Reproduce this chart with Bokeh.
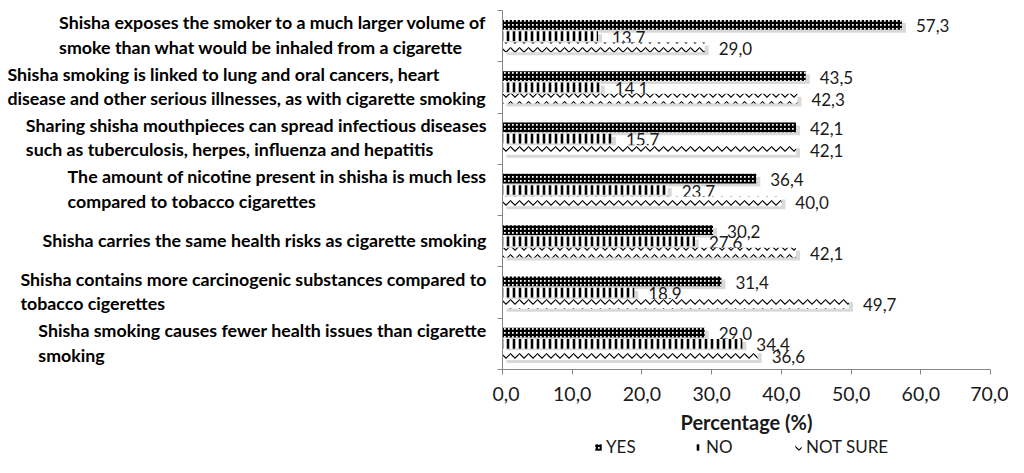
from bokeh.plotting import figure
from bokeh.models import ColumnDataSource, FixedTicker, Range1d, Legend, LegendItem
from bokeh.layouts import row, column
from bokeh.embed import file_html
from bokeh.resources import INLINE
from bokeh.core.properties import value

statements = [
    "Shisha exposes the smoker to a much larger volume of\nsmoke than what would be inhaled from a cigarette",
    "Shisha smoking is linked to lung and oral cancers, heart\ndisease and other serious illnesses, as with cigarette smoking",
    "Sharing shisha mouthpieces can spread infectious diseases\nsuch as tuberculosis, herpes, influenza and hepatitis",
    "The amount of nicotine present in shisha is much less\ncompared to tobacco cigarettes",
    "Shisha carries the same health risks as cigarette smoking",
    "Shisha contains more carcinogenic substances compared to\ntobacco cigerettes",
    "Shisha smoking causes fewer health issues than cigarette\nsmoking",
]
yes = [57.3, 43.5, 42.1, 36.4, 30.2, 31.4, 29.0]
no = [13.7, 14.1, 15.7, 23.7, 27.6, 18.9, 34.4]
not_sure = [29.0, 42.3, 42.1, 40.0, 42.1, 49.7, 36.6]
series_names = ["YES", "NO", "NOT SURE"]
x_ticks = [0, 10, 20, 30, 40, 50, 60, 70]
x_title = "Percentage (%)"

n = len(statements)
centers = [n - i - 0.5 for i in range(n)]
fmt = lambda v: f"{v:.1f}".replace(".", ",")

FONT = "Lato"
H = 436
TOP = 10
BOTTOM = 66
LEFT_W = 492
MAIN_W = 516
LEG_H = 21

yr = Range1d(0, n)

# ---- left label panel ----
lp = figure(width=LEFT_W, height=H, x_range=Range1d(0, LEFT_W), y_range=yr,
            output_backend="svg", toolbar_location=None,
            x_axis_type=None, y_axis_type=None,
            min_border_left=0, min_border_right=0,
            min_border_top=TOP, min_border_bottom=BOTTOM)
lp.outline_line_color = None
lp.grid.visible = False
lsrc = ColumnDataSource(dict(x=[LEFT_W - 6] * n, y=[c + 0.03 for c in centers], t=statements))
lp.text(x="x", y="y", text="t", source=lsrc, anchor="center_right", text_align="left",
        text_baseline="middle", text_font=value(FONT), text_font_style="bold",
        text_font_size="17.8px", text_color="#000000", text_line_height=1.12)

# ---- main chart ----
p = figure(width=MAIN_W, height=H, x_range=Range1d(0, 70), y_range=yr,
           output_backend="svg", toolbar_location=None,
           min_border_left=10, min_border_right=18,
           min_border_top=TOP, min_border_bottom=BOTTOM)
p.outline_line_color = None
p.grid.visible = False

off = 0.22
bh = 0.19
sx = 4 / 6.97   # shadow offset in data units (px / px-per-unit)
sy = 3 / 51.4

hatches = [
    dict(hatch_pattern="+", hatch_scale=4, hatch_weight=2.6),
    dict(hatch_pattern="|", hatch_scale=6, hatch_weight=2.6),
    dict(hatch_pattern="v", hatch_scale=9, hatch_weight=1.1),
]
series = [(yes, off), (no, 0.0), (not_sure, -off)]
for (vals, o), hatch in zip(series, hatches):
    ys = [c + o for c in centers]
    src = ColumnDataSource(dict(y=ys, v=vals, lab=[fmt(v) for v in vals]))
    shadow = ColumnDataSource(dict(y=[y - sy for y in ys], r=[v + sx for v in vals]))
    p.hbar(y="y", left=sx, right="r", height=bh, source=shadow,
           fill_color="#cfcfcf", fill_alpha=0.8, line_color=None)
    p.hbar(y="y", left=0, right="v", height=bh, source=src,
           fill_color="white", line_color=None, hatch_color="black", **hatch)
    p.text(x="v", y="y", text="lab", source=src, x_offset=14, y_offset=1,
           text_baseline="middle", text_align="left",
           text_font=value(FONT), text_font_size="17px", text_color="#1a1a1a")

xa = p.xaxis[0]
xa.ticker = FixedTicker(ticks=x_ticks)
xa.major_label_overrides = {t: fmt(t) for t in x_ticks}
xa.axis_line_color = "#868686"
xa.major_tick_line_color = "#868686"
xa.major_tick_in = 0
xa.major_tick_out = 5
xa.minor_tick_line_color = None
xa.major_label_standoff = 12
xa.major_label_text_font = FONT
xa.major_label_text_font_size = "19.5px"
xa.major_label_text_color = "#1a1a1a"
xa.axis_label = x_title
xa.axis_label_standoff = 6
xa.axis_label_text_font = FONT
xa.axis_label_text_font_style = "bold"
xa.axis_label_text_font_size = "20px"
xa.axis_label_text_color = "#1a1a1a"

ya = p.yaxis[0]
y_ticks = list(range(n + 1))
ya.ticker = FixedTicker(ticks=y_ticks)
ya.major_label_overrides = {t: "" for t in y_ticks}
ya.major_label_text_font_size = "10px"
ya.major_label_standoff = 0
ya.axis_line_color = "#868686"
ya.major_tick_line_color = "#868686"
ya.major_tick_in = 0
ya.major_tick_out = 5
ya.minor_tick_line_color = None

# ---- legend strip ----
lg = figure(width=LEFT_W + MAIN_W, height=LEG_H, x_range=Range1d(0, 1), y_range=Range1d(0, 1),
            output_backend="svg", toolbar_location=None,
            x_axis_type=None, y_axis_type=None,
            min_border_left=0, min_border_right=0, min_border_top=0, min_border_bottom=0)
lg.outline_line_color = None
lg.grid.visible = False
items = []
for nm, hatch in zip(series_names, hatches):
    # zero-width placeholder bar: only its legend swatch is visible
    r = lg.hbar(y=[0.5], left=[0], right=[0], height=0.5,
                fill_color="white", line_color=None, hatch_color="black", **hatch)
    items.append(LegendItem(label=nm, renderers=[r]))
legend = Legend(items=items, orientation="horizontal", location=(594, 0),
                glyph_width=8, glyph_height=8, label_standoff=4, label_width=85,
                label_height=16, spacing=3, padding=0, margin=0,
                border_line_color=None, background_fill_alpha=0,
                label_text_font=FONT, label_text_font_size="17px", label_text_color="#1a1a1a")
lg.add_layout(legend, "center")

layout = column(row(lp, p), lg)
open("out.html", "w").write(file_html(layout, INLINE))
